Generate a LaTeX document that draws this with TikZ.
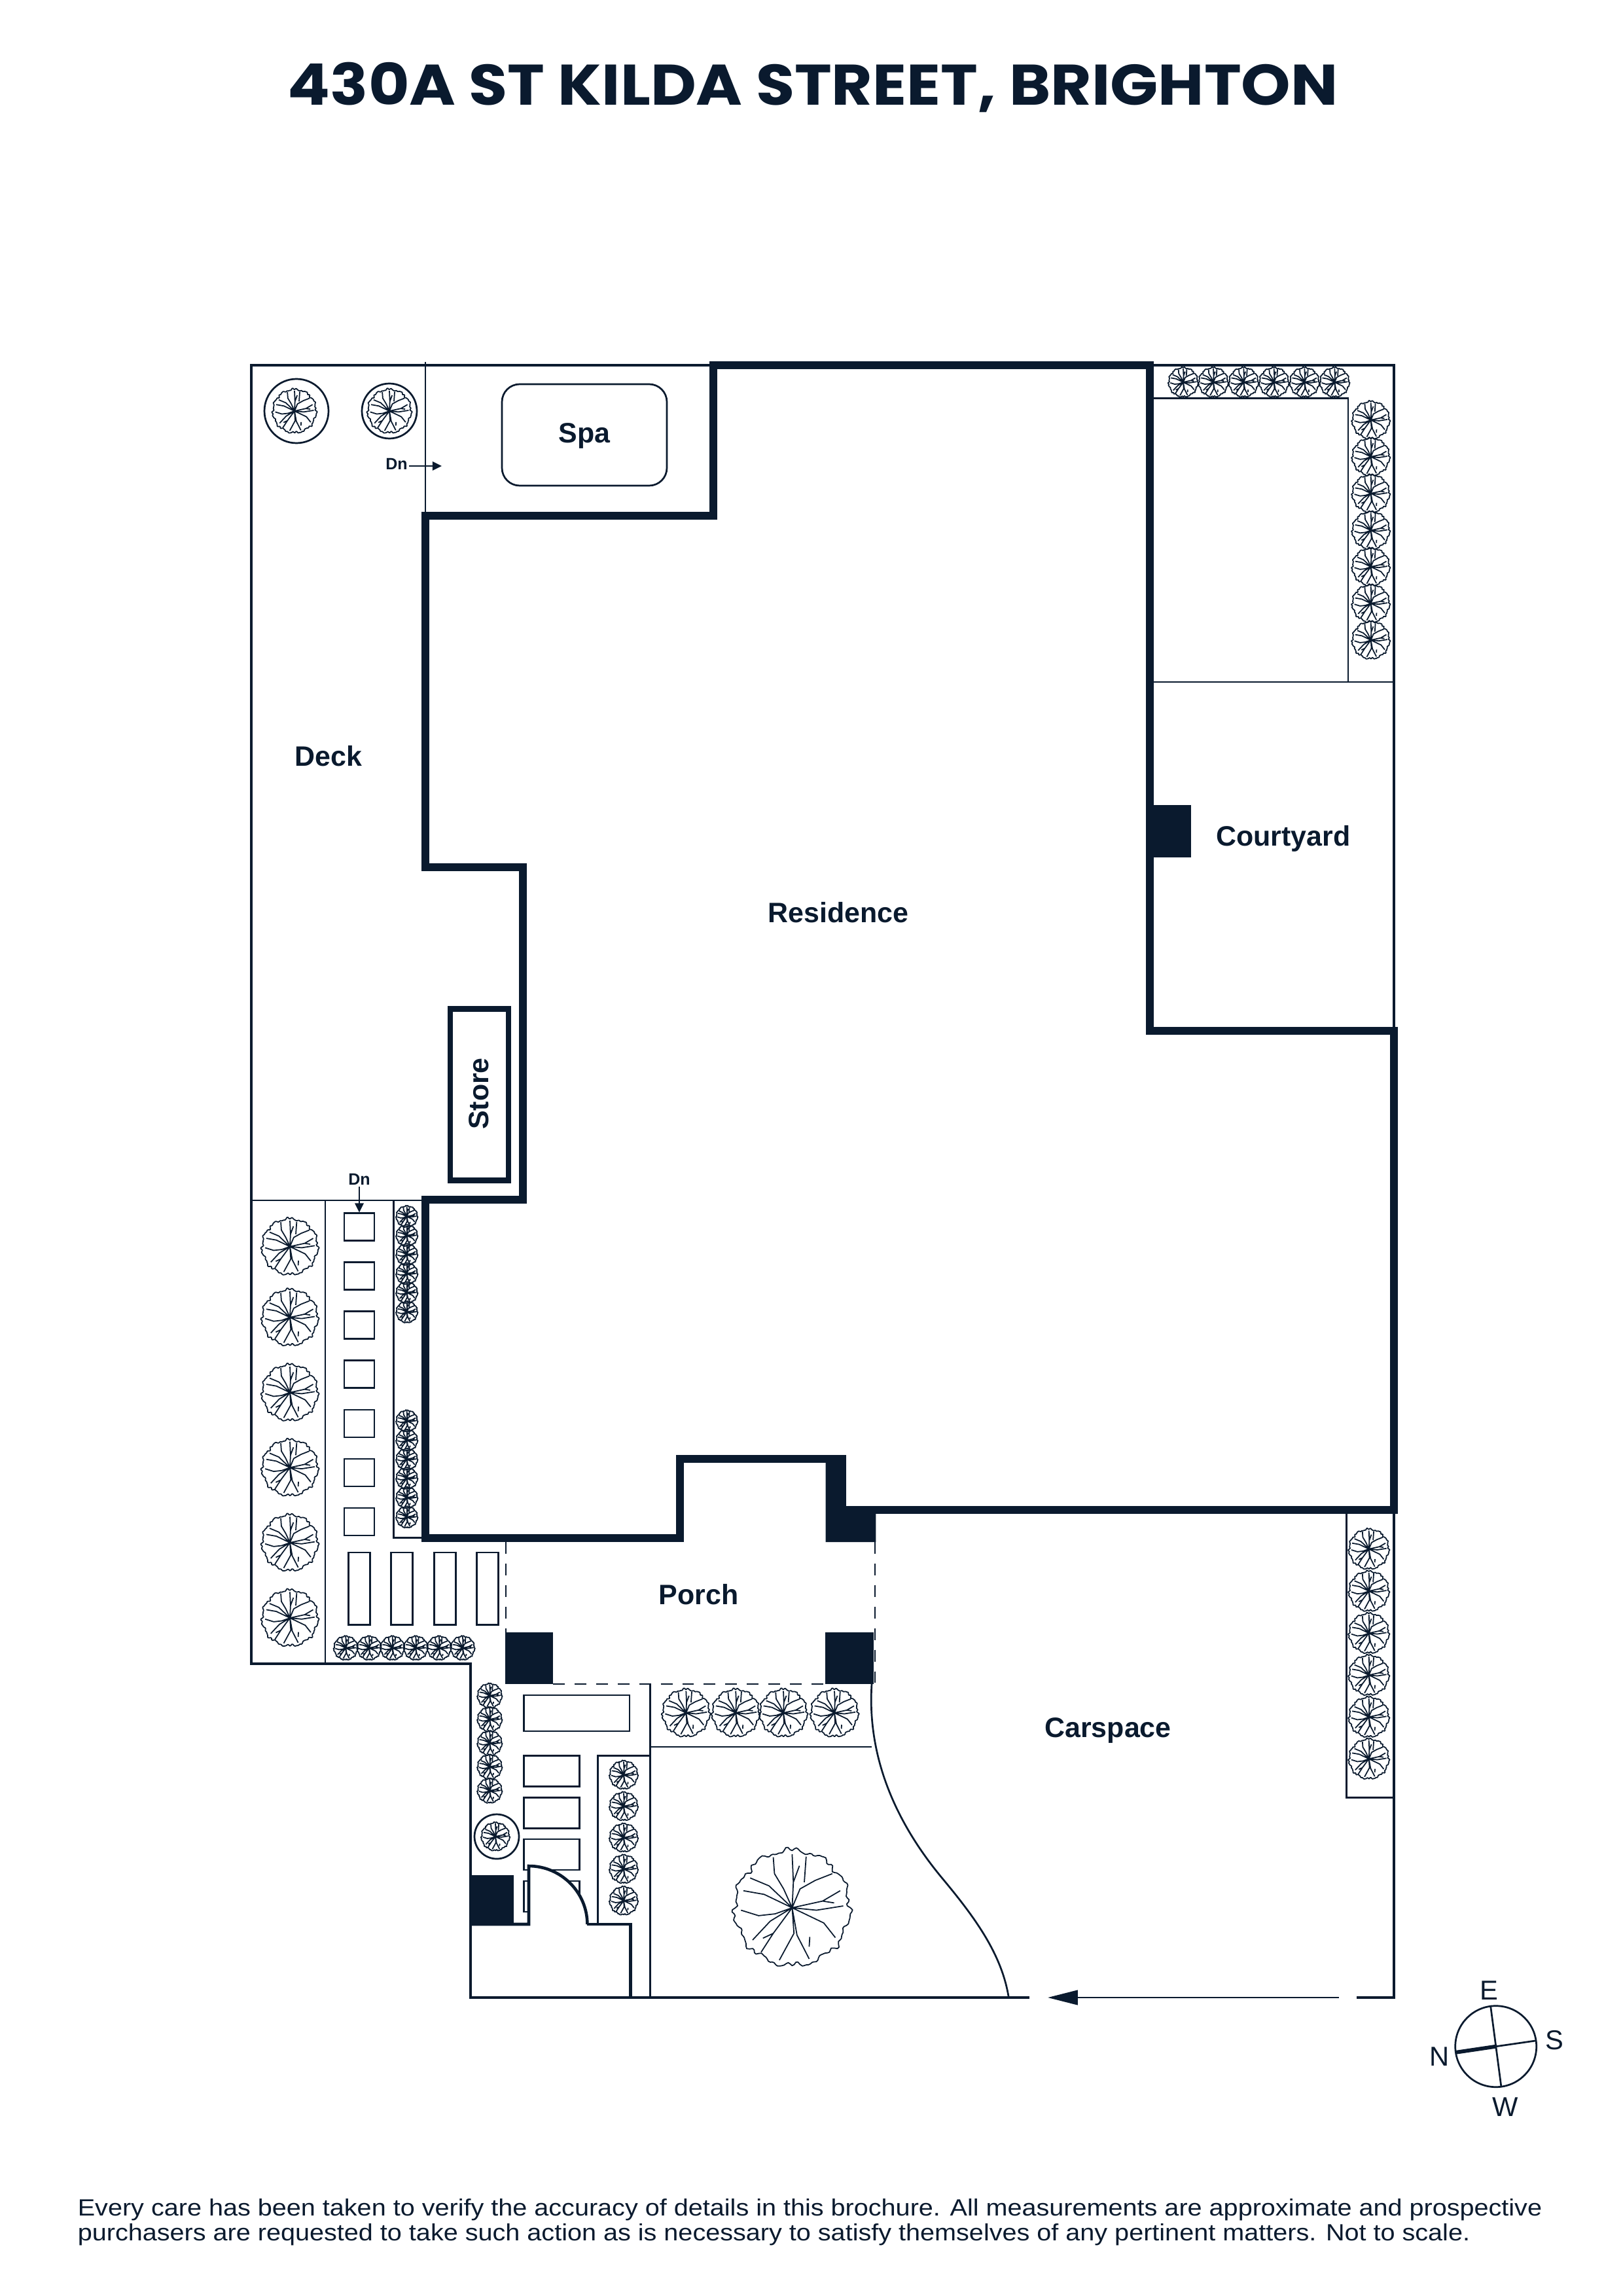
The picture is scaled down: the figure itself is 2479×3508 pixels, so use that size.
\documentclass[tikz,border=0pt]{standalone}
\usepackage{fontspec}
\usetikzlibrary{arrows.meta}
\setmainfont{Liberation Sans}
\newfontfamily\titlefont[FakeStretch=1.098]{Poppins}
\newfontfamily\notefont[FakeStretch=1.105]{Liberation Sans}
\definecolor{ink}{HTML}{0A1A2E}
\tikzset{
  thickwall/.style={draw=ink,line width=2.8pt,miter limit=10},
  outerline/.style={draw=ink,line width=1.05pt},
  innerline/.style={draw=ink,line width=0.65pt},
  dashline/.style={draw=ink,line width=0.5pt,dash pattern=on 4.3pt off 3.6pt},
  blackblock/.style={fill=ink,draw=none},
  stone/.style={draw=ink,line width=0.65pt},
  treeline/.style={draw=ink,line width=0.42pt,line join=round},
  labeltext/.style={text=ink,font=\fontsize{10.3}{12}\selectfont\bfseries,inner sep=0pt,anchor=base},
  smalltext/.style={text=ink,font=\fontsize{6}{7}\selectfont\bfseries,inner sep=0pt,anchor=base},
  compasstext/.style={text=ink,font=\fontsize{10}{12}\selectfont,inner sep=0pt},
  notetext/.style={text=ink,font=\notefont\fontsize{8.6}{9}\selectfont,inner sep=0pt,anchor=base west},
  treesym/.pic={
    \draw[treeline] plot[domain=0:358,samples=180,variable=\t]
      (\t:{0.945+0.03*sin(11*\t+10)+0.018*sin(29*\t)+0.012*sin(45*\t+40)+0.008*sin(37*\t)}) -- cycle;
    \draw[treeline]
      (0,0) -- (0.02,-0.42) -- (0,-0.88)
      (0.02,-0.42) -- (0.12,-0.69)
      (0,0) -- (-0.14,-0.31) -- (-0.29,-0.56) -- (-0.31,-0.83)
      (0,0) -- (0.13,-0.31) -- (0.38,-0.45) -- (0.66,-0.56)
      (0.2,-0.42) -- (0.23,-0.84)
      (0,0) -- (-0.38,-0.36) -- (-0.69,-0.49)
      (0,0) -- (-0.46,-0.22) -- (-0.8,-0.28)
      (0,0) -- (0.5,-0.11) -- (0.79,-0.28)
      (0.5,-0.11) -- (0.69,-0.08)
      (0,0) -- (0.4,0.04) -- (0.84,-0.03)
      (0,0) -- (-0.28,0.1) -- (-0.55,0.13) -- (-0.84,0.04)
      (0,0) -- (-0.36,0.22) -- (-0.65,0.53)
      (0,0) -- (-0.31,0.42) -- (-0.51,0.73)
      (-0.31,0.42) -- (-0.48,0.5)
      (0,0) -- (0.03,0.42) -- (-0.21,0.86)
      (0,0) -- (0.08,0.45) -- (0.28,0.84)
      (0.28,0.64) -- (0.29,0.48)
      (0,0) -- (0.52,0.25) -- (0.71,0.49);
  }
}
\newcommand{\plant}[3]{\pic[scale=#3] at (#1,#2) {treesym};}
\begin{document}
\begin{tikzpicture}[x=0.24pt,y=-0.24pt]
\useasboundingbox (0,0) rectangle (2479,3508);
\fill[white] (0,0) rectangle (2479,3508);

% title
\node[text=ink,inner sep=0pt,anchor=base west,font=\titlefont\bfseries\fontsize{21}{25}\selectfont] (title) at (439,160.3) {430A ST KILDA STREET, BRIGHTON};

% boundary lines
\draw[outerline] (1090,558) -- (384,558) -- (384,2542) -- (719,2542) -- (719,3052) -- (963.5,3052);
\draw[outerline] (1757,558) -- (2130,558) -- (2130,1575);
\draw[outerline] (2130,2307) -- (2130,3052) -- (2073,3052);
\draw[outerline,line width=1.1pt] (963.5,3052) -- (963.5,2940) -- (897.4,2940);
\draw[outerline,line width=1.1pt] (963.5,3052) -- (1572.6,3052);

% inner lines
\draw[innerline] (650,553) -- (650,788);
\draw[innerline] (384,1834) -- (650,1834);
\draw[innerline] (497,1834) -- (497,2542);
\draw[innerline] (601.7,1834) -- (601.7,2349.5) -- (650,2349.5);
\draw[innerline] (1763,608.6) -- (2060,608.6) -- (2060,1042);
\draw[innerline] (1763,1042) -- (2130,1042);
\draw[innerline] (2057.3,2313) -- (2057.3,2746.7) -- (2130,2746.7);
\draw[innerline] (993.4,2573) -- (993.4,3052);
\draw[innerline] (993.4,2669) -- (1332,2669);
\draw[innerline] (913.5,2940) -- (913.5,2682.6) -- (993.4,2682.6);
\draw[innerline] (1332,2573) .. controls (1325,2680) and (1365,2780) .. (1440,2870) .. controls (1490,2930) and (1530,2985) .. (1541,3050);

% dashed porch
\draw[dashline] (773,2356) -- (773,2494);
\draw[dashline] (1337.3,2356) -- (1337.3,2573);
\draw[dashline] (845,2573) -- (1261,2573);

% stepping stones
\foreach \yy in {1874.5,1949.5,2024.5,2099.5,2175,2250,2325}
  \draw[stone] (526,\yy-21) rectangle (572,\yy+21);
\foreach \xx in {549,614.3,680,745.3}
  \draw[stone] (\xx-16.5,2372) rectangle (\xx+16.5,2482.6);
\draw[stone] (800.5,2590) rectangle (962,2645);
\draw[stone] (800.5,2682.6) rectangle (885.8,2729.6);
\draw[stone] (800.5,2746.4) rectangle (885.8,2793.4);
\draw[stone] (800.5,2810) rectangle (885.8,2857);
\draw[stone] (800.5,2874) rectangle (885.8,2921);

% door
\fill[white] (808,2851) .. controls (857,2851) and (897.4,2891) .. (897.4,2940) -- (808,2940) -- cycle;
\draw[outerline,line width=1.1pt] (719,2940) -- (808,2940) -- (808,2851) .. controls (857,2851) and (897.4,2891) .. (897.4,2940);

% solid blocks
\fill[blackblock] (1751.7,1230) rectangle (1820.3,1309.7);
\fill[blackblock] (772.4,2494) rectangle (845,2573);
\fill[blackblock] (1261,2494) rectangle (1334.5,2573);
\fill[blackblock] (718,2864.8) rectangle (785,2940);
\fill[blackblock] (1261.7,2223) -- (1292.7,2223) -- (1292.7,2301) -- (1338.3,2301) -- (1338.3,2356) -- (1261.7,2356) -- cycle;

% thick walls
\draw[thickwall] (1090,558) -- (1757,558) -- (1757,1575) -- (2130,1575) -- (2130,2307) -- (1287,2307) -- (1287,2229) -- (1039.3,2229) -- (1039.3,2350) -- (650,2350) -- (650,1833) -- (799.3,1833) -- (799.3,1325) -- (650,1325) -- (650,788) -- (1090,788) -- cycle;
\draw[draw=ink,line width=2pt] (688,1541.5) rectangle (777,1803.5);

% spa
\draw[stone,rounded corners=6.5pt] (767,587) rectangle (1019,742);

% labels
\node[labeltext] (spa) at (893,677) {Spa};
\node[labeltext] (deck) at (502,1170) {Deck};
\node[labeltext] (residence) at (1281,1409) {Residence};
\node[labeltext] (courtyard) at (1960.7,1292.7) {Courtyard};
\node[labeltext,rotate=90] (store) at (746,1671) {Store};
\node[labeltext] (porch) at (1067.5,2451.5) {Porch};
\node[labeltext] (carspace) at (1693,2654) {Carspace};

% down markers
\node[smalltext] (dnA) at (606,718) {Dn};
\coordinate (dnAend) at (675,712);
\draw[draw=ink,line width=0.5pt,-{Triangle[length=3.4pt,width=3.2pt]}] (625,712) -- (dnAend);
\node[smalltext] (dnB) at (549,1810) {Dn};
\coordinate (dnBend) at (549,1852.5);
\draw[draw=ink,line width=0.5pt,-{Triangle[length=3.4pt,width=3.2pt]}] (549,1813) -- (dnBend);

% driveway arrow and end
\coordinate (driveA) at (2045.5,3052);
\coordinate (driveB) at (1601,3052);
\draw[draw=ink,line width=0.6pt,-{Triangle[length=11pt,width=5.4pt]}] (driveA) -- (driveB);

% pots
\draw[stone] (453,628) circle (49);
\draw[stone] (595,628) circle (42);
\draw[stone] (759,2806) circle (34);
\plant{450}{628}{35}
\plant{595}{628}{35}
\plant{757}{2806}{22.5}

% left big trees
\foreach \yy in {1904.6,2012.8,2127.6,2242.3,2357,2472}
  {\plant{443}{\yy}{45}}
% narrow hedge
\foreach \yy in {1858.7,1887.8,1916.8,1946,1975,2004.6,2171,2200.5,2229.6,2258.7,2288.3,2317.9}
  {\plant{621.7}{\yy}{17}}
\foreach \xx in {528.3,564,599.7,635.3,671,707}
  {\plant{\xx}{2517.9}{19}}
% courtyard hedge
\foreach \xx in {1808,1854,1900.3,1946.7,1993.3,2039.3}
  {\plant{\xx}{584}{23.5}}
\foreach \yy in {641.8,697.9,753.9,810.4,866,922,978}
  {\plant{2094.7}{\yy}{30}}
% carspace hedge
\foreach \yy in {2366.7,2431,2495.3,2559.3,2623.3,2687.3}
  {\plant{2091.7}{\yy}{32}}
% entry hedges
\foreach \yy in {2590.8,2627,2663.3,2699.5,2736}
  {\plant{748.3}{\yy}{19.5}}
\foreach \yy in {2711.7,2759.7,2807.7,2855.6,2904}
  {\plant{953}{\yy}{22.5}}
\foreach \xx in {1048.3,1124.2,1197,1275}
  {\plant{\xx}{2617}{38}}
\plant{1210.4}{2914.8}{93}

% compass
\draw[stone] (2285.7,3126.7) circle (62);
\draw[stone] (2277.5,3064) -- (2294,3189);
\draw[stone] (2285.7,3126.7) -- (2348,3117.7);
\draw[draw=ink,line width=1.4pt] (2225,3135.7) -- (2285.7,3126.7);
\node[compasstext] (cE) at (2275.7,3041) {E};
\node[compasstext] (cS) at (2375.5,3117) {S};
\node[compasstext] (cN) at (2200,3142) {N};
\node[compasstext] (cW) at (2300.5,3219) {W};

% footer
\node[notetext] (noteA) at (118,3385.7) {Every care has been taken to verify the accuracy of details in this brochure. All measurements are approximate and prospective};
\node[notetext] (noteB) at (118,3423.3) {purchasers are requested to take such action as is necessary to satisfy themselves of any pertinent matters. Not to scale.};
\end{tikzpicture}
\end{document}
